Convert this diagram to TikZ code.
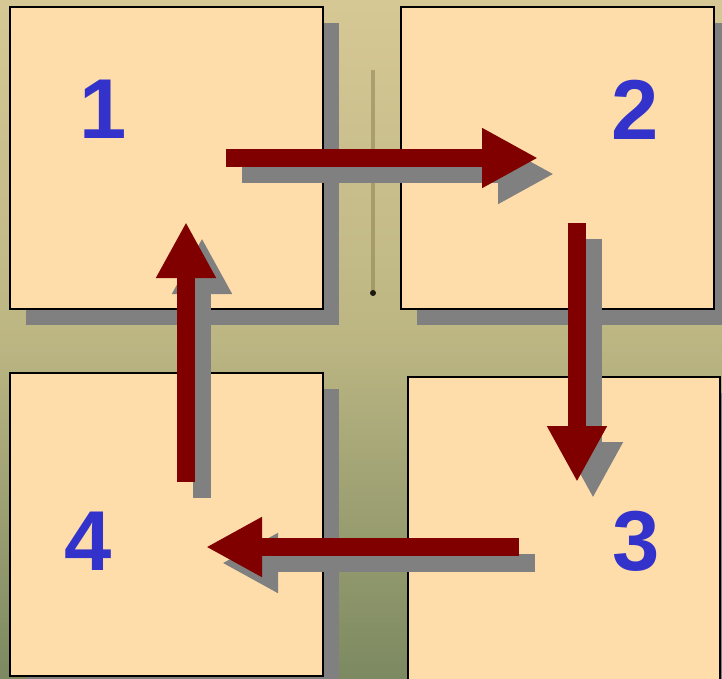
\documentclass[tikz,border=0pt]{standalone}
\usepackage{fontspec}
\setmainfont{Liberation Sans}
\usetikzlibrary{arrows.meta,shadows}
\definecolor{boxfill}{HTML}{FEDDAA}
\definecolor{shadowgray}{HTML}{808080}
\definecolor{arrowred}{HTML}{800000}
\definecolor{numblue}{HTML}{3333CC}
\definecolor{bgtop}{HTML}{D6C895}
\definecolor{bgmid}{HTML}{BCB683}
\definecolor{bgbot}{HTML}{7C8961}
\definecolor{stripe}{HTML}{8A7C4E}
\tikzset{
  stepbox/.style={draw=black, line width=1.4pt, fill=boxfill, inner sep=0pt,
    drop shadow={shadow xshift=16pt, shadow yshift=-16pt, fill=shadowgray, opacity=1}},
  num/.style={text=numblue, font=\fontsize{85}{85}\selectfont\bfseries, inner sep=0pt, anchor=base},
  flow/.style={draw=arrowred, line width=18pt, -{Triangle[width=56pt,length=56pt]}},
  flowshadow/.style={draw=shadowgray, line width=18pt, -{Triangle[width=56pt,length=56pt]},
    transform canvas={xshift=16pt, yshift=-16pt}}
}
\begin{document}
\begin{tikzpicture}[x=1pt,y=-1pt]
\useasboundingbox (0,0) rectangle (722,678);
\clip (0,0) rectangle (722,678);
% background
\shade[top color=bgtop, bottom color=bgbot, middle color=bgmid] (0,0) rectangle (722,678);
\fill[stripe, opacity=0.5] (371,70) rectangle (375,293);
\fill[black!80!stripe] (373,293) circle (3);
% boxes
\node[stepbox, minimum width=313pt, minimum height=302pt] (b1) at (166.5,158) {};
\node[stepbox, minimum width=313pt, minimum height=302pt] (b2) at (557.5,158) {};
\node[stepbox, minimum width=313pt, minimum height=303pt] (b4) at (166.5,524.5) {};
\node[stepbox, minimum width=312pt, minimum height=304pt] (b3) at (564,529) {};
% arrow end points
\coordinate (a1s) at (226,158);  \coordinate (a1e) at (538,158);
\coordinate (a2s) at (577,223);  \coordinate (a2e) at (577,482);
\coordinate (a3s) at (519,547);  \coordinate (a3e) at (206,547);
\coordinate (a4s) at (186,482);  \coordinate (a4e) at (186,222);
% arrow shadows
\draw[flowshadow] (a1s) -- (a1e);
\draw[flowshadow] (a2s) -- (a2e);
\draw[flowshadow] (a3s) -- (a3e);
\draw[flowshadow] (a4s) -- (a4e);
% arrows
\draw[flow] (a1s) -- (a1e);
\draw[flow] (a2s) -- (a2e);
\draw[flow] (a3s) -- (a3e);
\draw[flow] (a4s) -- (a4e);
% numbers
\node[num] (n1) at (103,138) {1};
\node[num] (n2) at (635,139) {2};
\node[num] (n3) at (636,570) {3};
\node[num] (n4) at (88,570) {4};
\end{tikzpicture}
\end{document}
